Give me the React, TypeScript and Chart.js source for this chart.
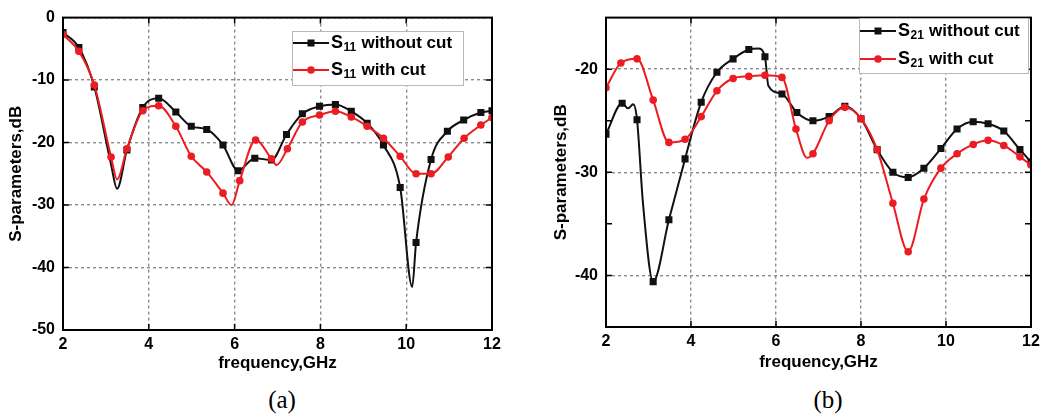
import React, { useEffect, useRef } from 'react';
import { Chart, registerables } from 'chart.js';

Chart.register(...registerables);

// ---------- data: chart (a) S11 ----------
const s11FreqWithout = [2.0, 2.37, 2.73, 3.12, 3.26, 3.49, 3.86, 4.23, 4.63, 4.99, 5.35, 5.73, 6.08, 6.47, 6.86, 7.21, 7.58, 7.98, 8.35, 8.72, 9.09, 9.47, 9.86, 10.14, 10.23, 10.58, 10.96, 11.34, 11.74, 12.0];
const s11Without = [-2.4, -4.8, -11.1, -23.5, -27.4, -21.2, -14.4, -12.9, -15.1, -17.4, -17.9, -20.4, -24.5, -22.5, -22.8, -18.7, -15.4, -14.2, -13.9, -15.0, -16.9, -20.4, -27.2, -43.1, -36.0, -22.7, -18.2, -16.4, -15.2, -14.9];
const s11WithoutUnmarked = [3, 4, 23];

const s11FreqWith = [2.0, 2.37, 2.73, 3.12, 3.26, 3.49, 3.86, 4.23, 4.63, 4.99, 5.35, 5.73, 5.93, 6.12, 6.49, 6.86, 6.98, 7.23, 7.58, 7.98, 8.35, 8.72, 9.09, 9.47, 9.86, 10.23, 10.58, 10.98, 11.35, 11.74, 12.0];
const s11With = [-2.7, -5.4, -10.8, -22.3, -25.9, -21.0, -14.9, -14.1, -17.4, -22.2, -24.7, -28.1, -30.0, -26.1, -19.6, -22.6, -23.6, -21.0, -16.7, -15.6, -15.0, -15.9, -17.4, -19.3, -22.2, -25.0, -25.0, -22.3, -19.3, -17.2, -16.0];
const s11WithUnmarked = [4, 12, 16];

// ---------- data: chart (b) S21 ----------
const s21FreqWithout = [2.0, 2.38, 2.52, 2.64, 2.73, 2.87, 3.11, 3.48, 3.86, 4.24, 4.61, 4.99, 5.36, 5.58, 5.74, 5.82, 6.14, 6.49, 6.87, 7.25, 7.62, 8.0, 8.38, 8.75, 9.11, 9.48, 9.88, 10.26, 10.64, 10.99, 11.36, 11.74, 12.0];
const s21Without = [-26.3, -23.3, -23.8, -23.4, -24.9, -33.0, -40.6, -34.6, -28.7, -23.2, -20.3, -19.0, -18.1, -18.0, -18.8, -21.6, -22.4, -24.2, -25.0, -24.6, -23.6, -24.8, -27.8, -30.0, -30.5, -29.6, -27.7, -25.8, -25.1, -25.3, -26.0, -27.8, -29.0];
const s21WithoutUnmarked = [2, 3, 5, 13, 15];

const s21FreqWith = [2.0, 2.35, 2.73, 3.11, 3.48, 3.86, 4.24, 4.61, 4.99, 5.36, 5.74, 6.14, 6.47, 6.73, 6.87, 7.25, 7.62, 8.0, 8.38, 8.75, 9.11, 9.48, 9.88, 10.26, 10.64, 10.99, 11.36, 11.74, 12.0];
const s21With = [-21.8, -19.4, -19.0, -23.0, -27.1, -26.8, -24.6, -22.1, -20.9, -20.7, -20.6, -20.8, -25.8, -28.6, -28.2, -25.0, -23.7, -24.8, -27.8, -33.0, -37.7, -32.6, -29.6, -28.2, -27.3, -26.9, -27.4, -28.5, -29.3];
const s21WithUnmarked = [13];

// ---------- ticks & labels ----------
const freqTicks = [2, 4, 6, 8, 10, 12];
const s11Ticks = [0, -10, -20, -30, -40, -50];
const s21Ticks = [-15, -20, -25, -30, -35, -40, -45];
const s21LabeledTicks = [-20, -30, -40];
const legendTexts = ['without cut', 'with cut'];
const xTitle = 'frequency,GHz';
const yTitle = 'S-parameters,dB';
const captions = ['(a)', '(b)'];

const BLACK = '#111111';
const RED = '#ec1c22';
const GRID = '#8c8c8c';
const FONT = '"Liberation Sans", Arial, sans-serif';

type Cfg = {
  withoutX: number[]; withoutY: number[]; withoutHidden: number[];
  withX: number[]; withY: number[]; withHidden: number[];
  yMin: number; yMax: number; yTicks: number[]; yLabeled: number[];
  pad: { left: number; right: number; top: number; bottom: number };
  yWidth: number; xHeight: number;
  yLabelPad: number; xLabelPad: number; yTitlePad: number; xTitlePad: number;
  legend: { x: number; y: number; w: number; h: number; lineX0: number; lineX1: number; textX: number; rows: number[] };
  sub: string;
};

function makeChart(canvas: HTMLCanvasElement, c: Cfg) {
  const framePlugin = {
    id: 'frame',
    afterDatasetsDraw(chart: any) {
      const { ctx, chartArea: a, scales } = chart;
      ctx.save();
      ctx.strokeStyle = '#000';
      ctx.lineWidth = 2;
      ctx.strokeRect(a.left, a.top, a.right - a.left, a.bottom - a.top);
      ctx.lineWidth = 1.5;
      const tl = 6;
      ctx.beginPath();
      freqTicks.forEach((v) => {
        const px = scales.x.getPixelForValue(v);
        if (Math.abs(px - a.left) < 2 || Math.abs(px - a.right) < 2) return;
        ctx.moveTo(px, a.bottom); ctx.lineTo(px, a.bottom - tl);
        ctx.moveTo(px, a.top); ctx.lineTo(px, a.top + tl);
      });
      c.yTicks.forEach((v) => {
        const py = scales.y.getPixelForValue(v);
        if (Math.abs(py - a.top) < 2 || Math.abs(py - a.bottom) < 2) return;
        ctx.moveTo(a.left, py); ctx.lineTo(a.left + tl, py);
        ctx.moveTo(a.right, py); ctx.lineTo(a.right - tl, py);
      });
      ctx.stroke();

      // legend
      const L = c.legend;
      ctx.fillStyle = '#fff';
      ctx.fillRect(L.x, L.y, L.w, L.h);
      ctx.strokeStyle = '#b8b8b8';
      ctx.lineWidth = 1;
      ctx.strokeRect(L.x + 0.5, L.y + 0.5, L.w, L.h);
      const styles = [
        { color: BLACK, rect: true },
        { color: RED, rect: false },
      ];
      styles.forEach((s, i) => {
        const y = L.rows[i];
        ctx.strokeStyle = s.color;
        ctx.lineWidth = 2;
        ctx.beginPath();
        ctx.moveTo(L.lineX0, y); ctx.lineTo(L.lineX1, y);
        ctx.stroke();
        const mx = (L.lineX0 + L.lineX1) / 2;
        ctx.fillStyle = s.color;
        if (s.rect) ctx.fillRect(mx - 3.5, y - 3.5, 7, 7);
        else { ctx.beginPath(); ctx.arc(mx, y, 3.8, 0, Math.PI * 2); ctx.fill(); }
        ctx.fillStyle = '#000';
        ctx.textBaseline = 'middle';
        ctx.textAlign = 'left';
        ctx.font = `bold 18px ${FONT}`;
        ctx.fillText('S', L.textX, y);
        const w1 = ctx.measureText('S').width;
        ctx.font = `bold 12px ${FONT}`;
        ctx.fillText(c.sub, L.textX + w1 + 0.5, y + 5);
        const w2 = ctx.measureText(c.sub).width;
        ctx.font = `bold 17px ${FONT}`;
        ctx.fillText(' ' + legendTexts[i], L.textX + w1 + w2 + 1, y);
      });
      ctx.restore();
    },
  };

  const mk = (xs: number[], ys: number[]) => xs.map((x, i) => ({ x, y: ys[i] }));

  return new Chart(canvas, {
    type: 'line',
    data: {
      datasets: [
        {
          label: 'with cut',
          data: mk(c.withX, c.withY),
          borderColor: RED,
          backgroundColor: RED,
          borderWidth: 2,
          pointStyle: 'circle',
          pointRadius: (ctx: any) => (c.withHidden.includes(ctx.dataIndex) ? 0 : 3.8),
          pointBorderWidth: 0,
          cubicInterpolationMode: 'monotone',
          fill: false,
        },
        {
          label: 'without cut',
          data: mk(c.withoutX, c.withoutY),
          borderColor: BLACK,
          backgroundColor: BLACK,
          borderWidth: 2,
          pointStyle: 'rect',
          pointRadius: (ctx: any) => (c.withoutHidden.includes(ctx.dataIndex) ? 0 : 5),
          pointBorderWidth: 0,
          cubicInterpolationMode: 'monotone',
          fill: false,
        },
      ],
    },
    options: {
      responsive: false,
      maintainAspectRatio: false,
      animation: false,
      layout: { padding: c.pad },
      plugins: { legend: { display: false }, tooltip: { enabled: false } },
      scales: {
        x: {
          type: 'linear',
          min: 2,
          max: 12,
          afterBuildTicks: (s: any) => { s.ticks = freqTicks.map((v) => ({ value: v })); },
          afterFit: (s: any) => { s.height = c.xHeight; },
          ticks: {
            color: '#000',
            padding: c.xLabelPad,
            font: { family: FONT, size: 16, weight: 'bold' },
            maxRotation: 0,
            callback: (v: any) => String(v),
          },
          grid: {
            color: GRID,
            lineWidth: 1.4,
            drawTicks: false,
          },
          border: { display: false, dash: [3, 3] },
          title: {
            display: true,
            text: xTitle,
            color: '#000',
            font: { family: FONT, size: 17, weight: 'bold' },
            padding: { top: 0, bottom: c.xTitlePad },
          },
        },
        y: {
          type: 'linear',
          min: c.yMin,
          max: c.yMax,
          afterBuildTicks: (s: any) => { s.ticks = c.yTicks.map((v) => ({ value: v })); },
          afterFit: (s: any) => { s.width = c.yWidth; },
          ticks: {
            color: '#000',
            padding: c.yLabelPad,
            font: { family: FONT, size: 16, weight: 'bold' },
            callback: (v: any) => (c.yLabeled.includes(Number(v)) ? String(v) : ''),
          },
          grid: {
            color: (ctx: any) => (ctx.tick && c.yLabeled.includes(ctx.tick.value) ? GRID : 'rgba(0,0,0,0)'),
            lineWidth: 1.4,
            drawTicks: false,
          },
          border: { display: false, dash: [3, 3] },
          title: {
            display: true,
            text: yTitle,
            color: '#000',
            font: { family: FONT, size: 17, weight: 'bold' },
            padding: { top: c.yTitlePad, bottom: 0 },
          },
        },
      },
    } as any,
    plugins: [framePlugin],
  } as any);
}

function Panel(props: { cfg: Cfg; left: number; width: number }) {
  const ref = useRef<HTMLCanvasElement | null>(null);
  useEffect(() => {
    if (!ref.current) return;
    const ch = makeChart(ref.current, props.cfg);
    return () => ch.destroy();
  }, []);
  return (
    <canvas
      ref={ref}
      width={props.width}
      height={380}
      style={{ position: 'absolute', left: props.left, top: 0, width: props.width, height: 380 }}
    />
  );
}

const cfgA: Cfg = {
  withoutX: s11FreqWithout, withoutY: s11Without, withoutHidden: s11WithoutUnmarked,
  withX: s11FreqWith, withY: s11With, withHidden: s11WithUnmarked,
  yMin: -50, yMax: 0, yTicks: s11Ticks, yLabeled: s11Ticks,
  pad: { left: 0, right: 33, top: 13, bottom: 0 },
  yWidth: 63, xHeight: 50,
  yLabelPad: 8, xLabelPad: 5, yTitlePad: 6, xTitlePad: 6,
  legend: { x: 292, y: 31, w: 171, h: 54, lineX0: 293, lineX1: 329, textX: 331, rows: [43, 70] },
  sub: '11',
};

const cfgB: Cfg = {
  withoutX: s21FreqWithout, withoutY: s21Without, withoutHidden: s21WithoutUnmarked,
  withX: s21FreqWith, withY: s21With, withHidden: s21WithUnmarked,
  yMin: -45, yMax: -15, yTicks: s21Ticks, yLabeled: s21LabeledTicks,
  pad: { left: 0, right: 14, top: 11, bottom: 0 },
  yWidth: 81, xHeight: 53,
  yLabelPad: 8, xLabelPad: 5, yTitlePad: 26, xTitlePad: 7,
  legend: { x: 334, y: 18, w: 169, h: 55, lineX0: 335, lineX1: 371, textX: 373, rows: [31, 59] },
  sub: '21',
};

export default function App() {
  return (
    <div style={{ position: 'absolute', left: 0, top: 0, width: 1045, height: 417, background: '#fff', overflow: 'hidden' }}>
      <Panel cfg={cfgA} left={0} width={525} />
      <Panel cfg={cfgB} left={525} width={520} />
      <div style={{ position: 'absolute', left: 232, top: 385, width: 100, textAlign: 'center', font: '25px "Liberation Serif", "Times New Roman", serif', lineHeight: '30px', color: '#000' }}>{captions[0]}</div>
      <div style={{ position: 'absolute', left: 778, top: 385, width: 100, textAlign: 'center', font: '25px "Liberation Serif", "Times New Roman", serif', lineHeight: '30px', color: '#000' }}>{captions[1]}</div>
    </div>
  );
}
